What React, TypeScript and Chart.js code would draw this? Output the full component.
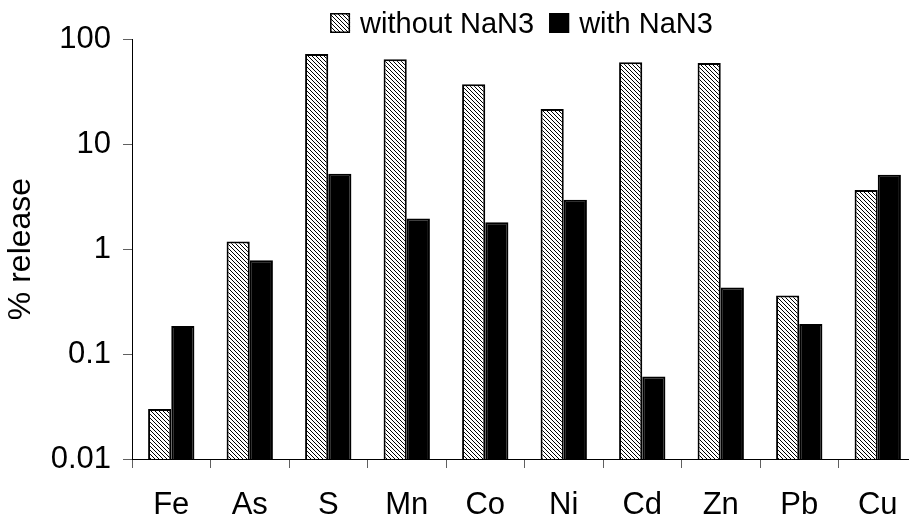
import React, { useEffect, useRef } from 'react';
import { Chart, registerables } from 'chart.js';

Chart.register(...registerables);

// Elements and their percentage release, with and without the NaN3 treatment
const categories = ['Fe', 'As', 'S', 'Mn', 'Co', 'Ni', 'Cd', 'Zn', 'Pb', 'Cu'];
const withoutNaN3 = [0.03, 1.18, 72, 64, 37, 21.5, 60, 59, 0.36, 3.65];
const withNaN3 = [0.185, 0.78, 5.2, 1.95, 1.8, 2.95, 0.061, 0.43, 0.193, 5.1];
const seriesLabels = ['without NaN3', 'with NaN3'];
const yTicks = [0.01, 0.1, 1, 10, 100];
const yTitle = '% release';

const FONT = '"Liberation Sans", Arial, Helvetica, sans-serif';

// Black "\\\\" diagonal hatching on white
function makeHatch(): CanvasPattern | string {
  const s = 4;
  const c = document.createElement('canvas');
  c.width = s;
  c.height = s;
  const g = c.getContext('2d');
  if (!g) return '#888';
  g.fillStyle = '#fff';
  g.fillRect(0, 0, s, s);
  g.strokeStyle = '#000';
  g.lineWidth = 1;
  g.beginPath();
  for (const k of [-1, 0, 1]) {
    g.moveTo(k * s - 1, -1);
    g.lineTo(k * s + s + 1, s + 1);
  }
  g.stroke();
  return g.createPattern(c, 'repeat') || '#888';
}

// Legend drawn as a single centred row above the plot
const topLegend = {
  id: 'topLegend',
  afterDraw(chart: any) {
    const { ctx, chartArea } = chart;
    ctx.save();
    ctx.font = `29px ${FONT}`;
    const box = 20;
    const gapText = 10;
    const gapItem = 15;
    const items = chart.data.datasets.map((ds: any) => ({
      label: ds.label as string,
      fill: ds.backgroundColor,
      w: ctx.measureText(ds.label).width,
    }));
    const total =
      items.reduce((a: number, it: any) => a + box + gapText + it.w, 0) +
      gapItem * (items.length - 1);
    let x = (chartArea.left + chartArea.right) / 2 - 3 - total / 2;
    const yBox = 13;
    for (const it of items) {
      ctx.fillStyle = it.fill;
      ctx.fillRect(x, yBox, box, box);
      ctx.strokeStyle = '#000';
      ctx.lineWidth = 1.5;
      ctx.strokeRect(x + 0.75, yBox + 0.75, box - 1.5, box - 1.5);
      ctx.fillStyle = '#000';
      ctx.textBaseline = 'alphabetic';
      ctx.textAlign = 'left';
      ctx.fillText(it.label, x + box + gapText, 33);
      x += box + gapText + it.w + gapItem;
    }
    ctx.restore();
  },
};

export default function App() {
  const ref = useRef<HTMLCanvasElement>(null);

  useEffect(() => {
    document.body.style.margin = '0';
    const canvas = ref.current;
    if (!canvas) return;
    const hatch = makeHatch();

    const chart = new Chart(canvas, {
      type: 'bar',
      data: {
        labels: categories,
        datasets: [
          {
            label: seriesLabels[0],
            data: withoutNaN3,
            backgroundColor: hatch as any,
            borderColor: '#000',
            borderWidth: 2,
            barPercentage: 1,
            categoryPercentage: 0.59,
          },
          {
            label: seriesLabels[1],
            data: withNaN3,
            backgroundColor: '#000',
            borderColor: '#000',
            borderWidth: 2,
            barPercentage: 1,
            categoryPercentage: 0.59,
          },
        ],
      },
      options: {
        responsive: false,
        animation: false,
        devicePixelRatio: 1,
        layout: { padding: { top: 39, right: 9, bottom: 0, left: 0 } },
        plugins: {
          legend: { display: false },
          tooltip: { enabled: false },
        },
        scales: {
          x: {
            afterFit: (scale: any) => {
              scale.height = 63;
            },
            grid: {
              display: true,
              drawOnChartArea: false,
              drawTicks: true,
              tickLength: 9,
              color: '#606060',
              offset: true,
            },
            border: { display: true, color: '#000', width: 1 },
            ticks: {
              font: { family: FONT, size: 31 },
              color: '#000',
              padding: 19,
              maxRotation: 0,
              autoSkip: false,
            },
          },
          y: {
            type: 'logarithmic',
            min: yTicks[0],
            max: yTicks[yTicks.length - 1],
            afterBuildTicks: (scale: any) => {
              scale.ticks = yTicks.map((value) => ({ value }));
            },
            afterFit: (scale: any) => {
              scale.width = 132;
            },
            grid: {
              drawOnChartArea: false,
              drawTicks: true,
              tickLength: 9,
              color: '#606060',
            },
            border: { display: true, color: '#000', width: 1 },
            ticks: {
              font: { family: FONT, size: 31 },
              color: '#000',
              padding: 12,
              callback: (v: any) => String(v),
            },
            title: {
              display: true,
              text: yTitle,
              font: { family: FONT, size: 32 },
              color: '#000',
              padding: { top: 2, bottom: 0 },
            },
          },
        },
      },
      plugins: [topLegend],
    });

    return () => chart.destroy();
  }, []);

  return (
    <div style={{ width: 909, height: 522, overflow: 'hidden', background: '#fff' }}>
      <canvas ref={ref} width={926} height={522} style={{ display: 'block' }} />
    </div>
  );
}
